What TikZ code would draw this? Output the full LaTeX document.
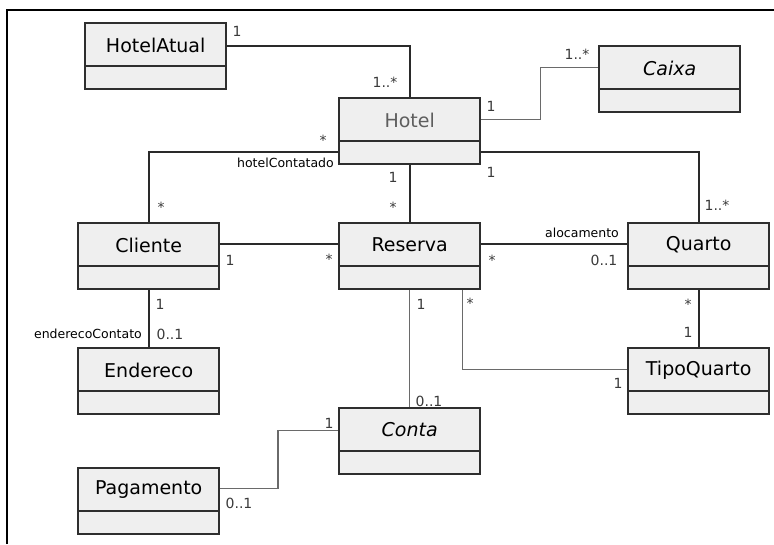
\documentclass[tikz,border=0pt]{standalone}
\usepackage{fontspec}
\setmainfont{DejaVu Sans}
\definecolor{boxfill}{HTML}{EFEFEF}
\definecolor{boxline}{HTML}{2E2E2E}
\definecolor{linedark}{HTML}{2A2A2A}
\definecolor{linegray}{HTML}{6A6A6A}
\definecolor{multgray}{HTML}{3A3A3A}
\definecolor{hotelgray}{HTML}{5E5E5E}
% one UML class: name, left x, top y, title, extra title style
\newcommand\umlclass[5]{%
  \node[classbox] (#1) at (#2,#3) {};
  \draw[classdiv] ([yshift=-44pt]#1.north west) -- ([yshift=-44pt]#1.north east);
  \node[classname,#5] (#1-name) at ([yshift=-23pt]#1.north) {#4};
}
\begin{document}
\begin{tikzpicture}[x=1pt,y=-1pt,
  classbox/.style={draw=boxline, fill=boxfill, line width=2.4pt,
    minimum width=141pt, minimum height=66pt, inner sep=0pt, anchor=north west},
  classdiv/.style={draw=boxline, line width=2.2pt},
  classname/.style={font=\fontsize{19}{19}\selectfont, text=black, inner sep=0pt},
  strong/.style={draw=linedark, line width=2.2pt},
  light/.style={draw=linegray, line width=1.4pt},
  mult/.style={font=\fontsize{14}{14}\selectfont, text=multgray, inner sep=0pt},
  star/.style={mult, yshift=-2.5pt},
  role/.style={font=\fontsize{12.5}{12.5}\selectfont, text=black, inner sep=0pt}]
\useasboundingbox (0,0) rectangle (774,544);
\fill[white] (0,0) rectangle (774,544);

% outer frame
\draw[line width=2.4pt, black] (7,544) -- (7,10) -- (774,10);

% classes
\umlclass{hotelatual}{84}{22}{HotelAtual}{}
\umlclass{hotel}{338}{97}{Hotel}{text=hotelgray}
\umlclass{caixa}{598}{45}{Caixa}{font=\fontsize{19}{19}\selectfont\itshape}
\umlclass{cliente}{77}{222}{Cliente}{}
\umlclass{reserva}{338}{222}{Reserva}{}
\umlclass{quarto}{627}{222}{Quarto}{}
\umlclass{endereco}{77}{347}{Endereco}{}
\umlclass{tipoquarto}{627}{347}{TipoQuarto}{}
\umlclass{conta}{338}{407}{Conta}{font=\fontsize{19}{19}\selectfont\itshape}
\umlclass{pagamento}{77}{467}{Pagamento}{}

% associations
\draw[strong] ([yshift=10.5pt]hotelatual.east) -| (hotel.north);
\draw[light] ([yshift=12pt]hotel.east) -- ++(59,0) |- ([yshift=11.5pt]caixa.west);
\draw[strong] ([yshift=-21pt]hotel.west) -| (cliente.north);
\draw[strong] ([yshift=-21pt]hotel.east) -| (quarto.north);
\draw[strong] (hotel.south) -- (reserva.north);
\draw[strong] ([yshift=12pt]cliente.east) -- ([yshift=12pt]reserva.west);
\draw[strong] ([yshift=12pt]reserva.east) -- ([yshift=12pt]quarto.west);
\draw[strong] (cliente.south) -- (endereco.north);
\draw[light] (reserva.south) -- (conta.north);
\draw[light] ([xshift=53pt]reserva.south) |- ([yshift=11.5pt]tipoquarto.west);
\draw[strong] (quarto.south) -- (tipoquarto.north);
\draw[light] ([yshift=11pt]conta.west) -- ++(-60,0) |- ([yshift=13pt]pagamento.east);

% multiplicities
\node[mult] (m1) at (237,31) {1};
\node[mult] (m2) at (385,82) {1..*};
\node[mult] (m3) at (491,106) {1};
\node[mult] (m4) at (577,54) {1..*};
\node[mult] (m5) at (491,172) {1};
\node[star] (m6) at (323,138) {*};
\node[mult] (m7) at (393,177) {1};
\node[star] (m8) at (393,205) {*};
\node[star] (m9) at (161,205) {*};
\node[mult] (m10) at (717,205) {1..*};
\node[mult] (m11) at (230,260) {1};
\node[star] (m12) at (329,257) {*};
\node[star] (m13) at (492,258) {*};
\node[mult] (m14) at (604,260) {0..1};
\node[mult] (m15) at (160,304) {1};
\node[mult] (m16) at (170,334) {0..1};
\node[mult] (m17) at (421,304) {1};
\node[star] (m18) at (470,301) {*};
\node[star] (m19) at (688,302) {*};
\node[mult] (m20) at (688,332) {1};
\node[mult] (m21) at (618,383) {1};
\node[mult] (m22) at (429,401) {0..1};
\node[mult] (m23) at (329,423) {1};
\node[mult] (m24) at (239,503) {0..1};

% role names
\node[role, anchor=east] (r1) at (334,163) {hotelContatado};
\node[role] (r2) at (582,233) {alocamento};
\node[role, anchor=east] (r3) at (142,334) {enderecoContato};
\end{tikzpicture}
\end{document}
